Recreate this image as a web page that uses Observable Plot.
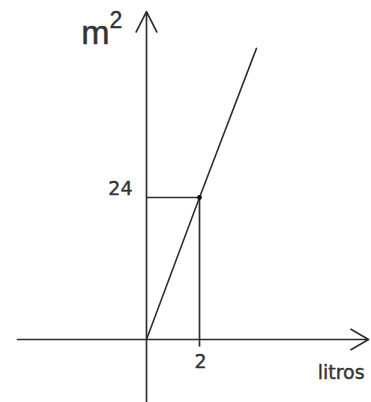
<!DOCTYPE html>
<html>
<head>
<meta charset="utf-8">
<script src="https://cdn.jsdelivr.net/npm/d3@7"></script>
<script src="https://cdn.jsdelivr.net/npm/@observablehq/plot@0.6"></script>
<style>
  html, body { margin: 0; padding: 0; background: #fff; }
  #chart svg { display: block; }
</style>
</head>
<body>
<div id="chart"></div>
<script>
// Data
const litros = [0, 2, 4.15];
const area = [0, 24, 49.2];
const highlightX = [2];
const highlightY = [24];
const xAxisExtent = [-4.87, 8.38];
const yAxisExtent = [-11, 55.4];
const yTickLabel = ["24"];
const xTickLabel = ["2"];
const xTitle = "litros";
const yTitleBase = "m";
const yTitleExp = "2";

const line = litros.map((x, i) => ({x, y: area[i]}));
const point = {x: highlightX[0], y: highlightY[0]};
const ink = "#2e2e2e";
const textInk = "#333";

const chart = Plot.plot({
  width: 371,
  height: 402,
  margin: 0,
  x: {domain: [0, 2], range: [146, 199], axis: null},
  y: {domain: [0, 24], range: [339, 197], axis: null},
  style: {background: "#fff"},
  marks: [
    Plot.arrow([{x1: xAxisExtent[0], x2: xAxisExtent[1], y: 0}], {
      x1: "x1", x2: "x2", y1: "y", y2: "y",
      stroke: ink, strokeWidth: 1.7, headLength: 18, headAngle: 60
    }),
    Plot.arrow([{y1: yAxisExtent[0], y2: yAxisExtent[1], x: 0}], {
      x1: "x", x2: "x", y1: "y1", y2: "y2",
      stroke: ink, strokeWidth: 1.7, headLength: 20, headAngle: 54
    }),
    Plot.ruleY([point], {x1: 0, x2: "x", y: "y", stroke: ink, strokeWidth: 1.7}),
    Plot.ruleX([point], {x: "x", y1: -1.3, y2: "y", stroke: ink, strokeWidth: 1.7}),
    Plot.line(line, {x: "x", y: "y", stroke: ink, strokeWidth: 1.6}),
    Plot.dot([point], {x: "x", y: "y", r: 2.4, fill: "#111", stroke: "none"}),
    Plot.text(yTickLabel, {x: 0, y: highlightY[0], text: d => d, textAnchor: "end", lineAnchor: "bottom",
      dx: -14, dy: -3, fontSize: 19, fontFamily: "DejaVu Sans", fill: textInk, stroke: textInk, strokeWidth: 0.4}),
    Plot.text(xTickLabel, {x: highlightX[0], y: 0, text: d => d, textAnchor: "middle", lineAnchor: "bottom",
      dx: 1, dy: 28, fontSize: 19, fontFamily: "DejaVu Sans", fill: textInk, stroke: textInk, strokeWidth: 0.4}),
    Plot.text([xTitle], {x: xAxisExtent[1], y: 0, text: d => d, textAnchor: "end", lineAnchor: "bottom",
      dx: -4, dy: 39, fontSize: 19, fontFamily: "DejaVu Sans", fill: textInk, stroke: textInk, strokeWidth: 0.4}),
    Plot.text([yTitleBase], {x: 0, y: yAxisExtent[1], text: d => d, textAnchor: "end", lineAnchor: "bottom",
      dx: -37, dy: 32, fontSize: 34, fontFamily: "Liberation Sans", fill: textInk, stroke: textInk, strokeWidth: 0.5}),
    Plot.text([yTitleExp], {x: 0, y: yAxisExtent[1], text: d => d, textAnchor: "start", lineAnchor: "bottom",
      dx: -37, dy: 16, fontSize: 23, fontFamily: "Liberation Sans", fill: textInk, stroke: textInk, strokeWidth: 0.4})
  ]
});
document.getElementById("chart").append(chart);
</script>
</body>
</html>
